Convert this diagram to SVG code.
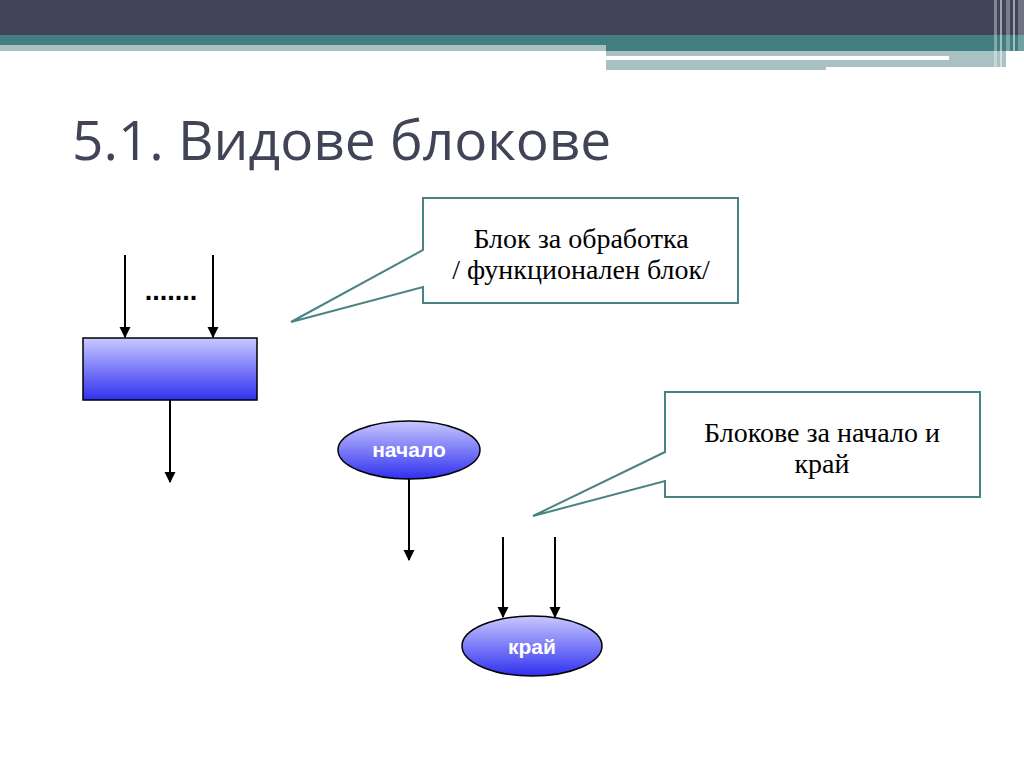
<svg xmlns="http://www.w3.org/2000/svg" width="1024" height="768" viewBox="0 0 1024 768">
<style>
.title{font-family:"Open Sans","Liberation Sans",sans-serif;font-size:55px;fill:#414456}
.call{fill:#ffffff;stroke:#4a8383;stroke-width:2}
.ctext{font-family:"Liberation Serif",serif;font-size:28px;fill:#000;text-anchor:middle}
.etext{font-family:"Liberation Sans",Arial,sans-serif;font-size:21px;font-weight:bold;fill:#fff;text-anchor:middle}
.conn line{stroke:#000;stroke-width:2;marker-end:url(#ah)}
</style>
<defs>
<linearGradient id="gb" x1="0" y1="0" x2="0" y2="1">
<stop offset="0" stop-color="#c8c8ff"/>
<stop offset="1" stop-color="#3030f0"/>
</linearGradient>
<marker id="ah" viewBox="0 0 10 10" refX="9" refY="5" markerWidth="5.5" markerHeight="6" orient="auto" markerUnits="strokeWidth">
<path d="M0,0 L10,5 L0,10 z" fill="#000"/>
</marker>
</defs>
<rect width="1024" height="768" fill="#ffffff"/>
<g id="header">
<rect x="0" y="0" width="1024" height="35" fill="#414456"/>
<rect x="0" y="35" width="1024" height="10" fill="#427e80"/>
<rect x="0" y="45" width="606" height="6" fill="#a9c1c3"/>
<rect x="606" y="45" width="418" height="6" fill="#427e80"/>
<rect x="606" y="51" width="400" height="5" fill="#a9c1c3"/>
<rect x="606" y="60" width="220" height="10" fill="#a9c1c3"/>
<rect x="826" y="60" width="180" height="7" fill="#a9c1c3"/>
<rect x="949" y="56" width="57" height="4" fill="#a9c1c3"/>
<rect x="994" y="0" width="3" height="68" fill="#ffffff" opacity="0.35"/>
<rect x="1000" y="0" width="2" height="68" fill="#ffffff" opacity="0.5"/>
<rect x="1006" y="0" width="4" height="68" fill="#ffffff" opacity="0.3"/>
<rect x="1013" y="0" width="2" height="68" fill="#ffffff" opacity="0.5"/>
<rect x="1018" y="0" width="6" height="68" fill="#ffffff" opacity="0.25"/>
</g>
<text class="title" x="72" y="160">5.1. Видове блокове</text>
<g id="callout1">
<path class="call" d="M423,198 H738 V303 H423 V287 L291,322 L423,250 Z"/>
<text class="ctext" x="581" y="248">Блок за обработка</text>
<text class="ctext" x="581" y="279">/ функционален блок/</text>
</g>
<g id="callout2">
<path class="call" d="M665,392 H980 V497 H665 V481 L533,516 L665,452 Z"/>
<text class="ctext" x="822" y="442">Блокове за начало и</text>
<text class="ctext" x="822" y="473">край</text>
</g>
<g id="process">
<rect x="83" y="338" width="174" height="62" fill="url(#gb)" stroke="#000" stroke-width="1.5"/>
<text x="171" y="300" font-family="Liberation Sans,sans-serif" font-size="27" font-weight="bold" text-anchor="middle" fill="#000">.......</text>
</g>
<g id="start">
<ellipse cx="409" cy="450" rx="71" ry="29" fill="url(#gb)" stroke="#000" stroke-width="1.5"/>
<text class="etext" x="409" y="457">начало</text>
</g>
<g id="end">
<ellipse cx="532" cy="646" rx="70" ry="30" fill="url(#gb)" stroke="#000" stroke-width="1.5"/>
<text class="etext" x="532" y="654">край</text>
</g>
<g id="connectors" class="conn">
<line x1="125" y1="255" x2="125" y2="337"/>
<line x1="213" y1="255" x2="213" y2="337"/>
<line x1="170" y1="400" x2="170" y2="482"/>
<line x1="409" y1="479" x2="409" y2="560"/>
<line x1="503" y1="537" x2="503" y2="617"/>
<line x1="555" y1="537" x2="555" y2="617"/>
</g>
</svg>
